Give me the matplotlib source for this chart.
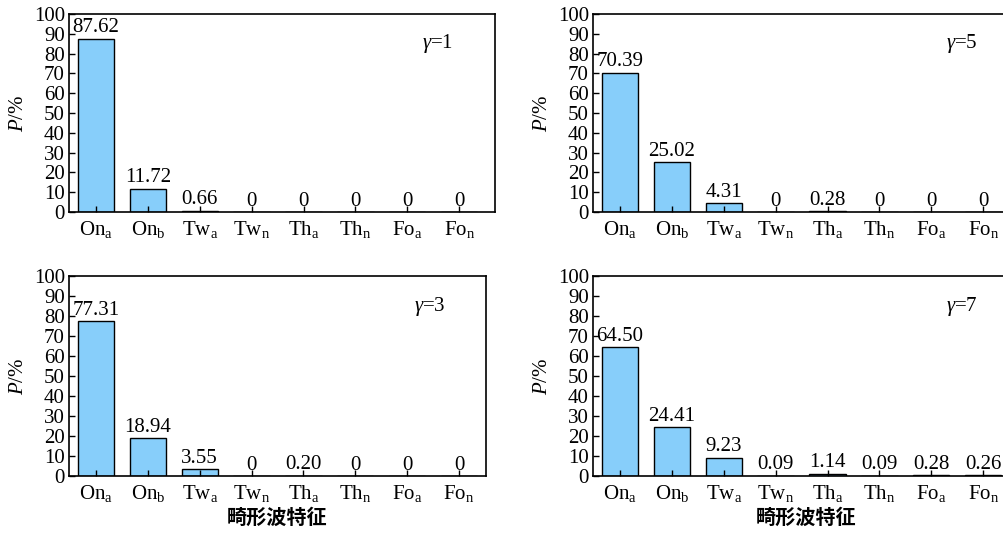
import matplotlib
matplotlib.use("Agg")
import matplotlib.pyplot as plt

plt.rcParams["font.family"] = ["Liberation Serif", "Noto Sans CJK SC"]
plt.rcParams["mathtext.fontset"] = "custom"
plt.rcParams["mathtext.rm"] = "Liberation Serif"
plt.rcParams["mathtext.it"] = "Liberation Serif:italic"
plt.rcParams["font.size"] = 15

# Data
categories = [r"On$_\mathrm{a}$", r"On$_\mathrm{b}$", r"Tw$_\mathrm{a}$", r"Tw$_\mathrm{n}$",
              r"Th$_\mathrm{a}$", r"Th$_\mathrm{n}$", r"Fo$_\mathrm{a}$", r"Fo$_\mathrm{n}$"]
p_gamma1 = [87.62, 11.72, 0.66, 0, 0, 0, 0, 0]
p_gamma3 = [77.31, 18.94, 3.55, 0, 0.20, 0, 0, 0]
p_gamma5 = [70.39, 25.02, 4.31, 0, 0.28, 0, 0, 0]
p_gamma7 = [64.50, 24.41, 9.23, 0.09, 1.14, 0.09, 0.28, 0.26]
gammas = [1, 3, 5, 7]

W, H = 1004, 533
fig = plt.figure(figsize=(W / 100, H / 100), dpi=100)


def make_ax(x0, x1, ytop, ybot):
    return fig.add_axes([x0 / W, 1 - ybot / H, (x1 - x0) / W, (ybot - ytop) / H])


panels = [
    (make_ax(69, 495, 14, 212), p_gamma1, gammas[0], 7.69, False),
    (make_ax(593, 1019, 14, 212), p_gamma5, gammas[2], 7.69, False),
    (make_ax(69, 486, 276, 476), p_gamma3, gammas[1], 7.52, True),
    (make_ax(593, 1019, 276, 476), p_gamma7, gammas[3], 7.69, True),
]

x = list(range(len(categories)))
for ax, vals, g, xr, bottom in panels:
    ax.bar(x, vals, width=0.7, color="#87CEFA", edgecolor="black", linewidth=1.0)
    for xi, v in zip(x, vals):
        txt = f"{v:.2f}" if v != 0 else "0"
        ax.annotate(txt, (xi, v), xytext=(0, 1), textcoords="offset points",
                    ha="center", va="bottom")
    ax.set_xlim(-0.52, xr)
    ax.set_ylim(0, 100)
    ax.set_yticks(range(0, 101, 10))
    ax.set_xticks(x)
    ax.set_xticklabels(categories)
    ax.tick_params(direction="in", length=4, width=1, pad=3)
    ax.tick_params(axis="x", pad=5)
    for s in ax.spines.values():
        s.set_linewidth(1.2)
    ax.set_ylabel(r"$P$/%", labelpad=4)
    ax.text(0.865, 0.85, r"$\gamma$=%d" % g, transform=ax.transAxes,
            ha="center", va="center")
    if bottom:
        ax.set_xlabel("畸形波特征", family=["Noto Sans CJK SC"], fontweight="bold",
                      fontsize=14.5, labelpad=2)

fig.savefig("out.png", dpi=100)
